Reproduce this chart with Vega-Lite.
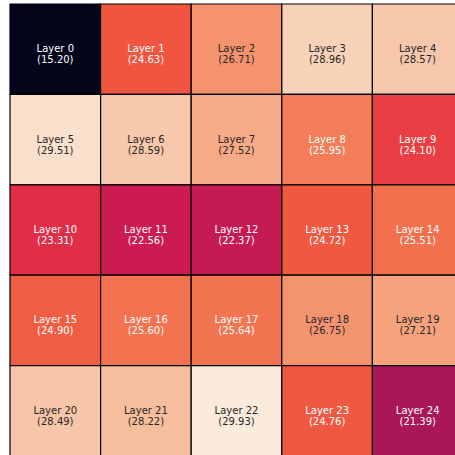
{
  "$schema": "https://vega.github.io/schema/vega-lite/v6.json",
  "width": 453,
  "height": 452,
  "autosize": {"type": "none"},
  "padding": {"left": 10, "top": 4, "right": 0, "bottom": 0},
  "background": "white",
  "config": {"view": {"stroke": null}},
  "data": {
    "values": [
      {"layer": 0, "row": 0, "col": 0, "value": 15.20},
      {"layer": 1, "row": 0, "col": 1, "value": 24.63},
      {"layer": 2, "row": 0, "col": 2, "value": 26.71},
      {"layer": 3, "row": 0, "col": 3, "value": 28.96},
      {"layer": 4, "row": 0, "col": 4, "value": 28.57},
      {"layer": 5, "row": 1, "col": 0, "value": 29.51},
      {"layer": 6, "row": 1, "col": 1, "value": 28.59},
      {"layer": 7, "row": 1, "col": 2, "value": 27.52},
      {"layer": 8, "row": 1, "col": 3, "value": 25.95},
      {"layer": 9, "row": 1, "col": 4, "value": 24.10},
      {"layer": 10, "row": 2, "col": 0, "value": 23.31},
      {"layer": 11, "row": 2, "col": 1, "value": 22.56},
      {"layer": 12, "row": 2, "col": 2, "value": 22.37},
      {"layer": 13, "row": 2, "col": 3, "value": 24.72},
      {"layer": 14, "row": 2, "col": 4, "value": 25.51},
      {"layer": 15, "row": 3, "col": 0, "value": 24.90},
      {"layer": 16, "row": 3, "col": 1, "value": 25.60},
      {"layer": 17, "row": 3, "col": 2, "value": 25.64},
      {"layer": 18, "row": 3, "col": 3, "value": 26.75},
      {"layer": 19, "row": 3, "col": 4, "value": 27.21},
      {"layer": 20, "row": 4, "col": 0, "value": 28.49},
      {"layer": 21, "row": 4, "col": 1, "value": 28.22},
      {"layer": 22, "row": 4, "col": 2, "value": 29.93},
      {"layer": 23, "row": 4, "col": 3, "value": 24.76},
      {"layer": 24, "row": 4, "col": 4, "value": 21.39}
    ]
  },
  "transform": [
    {"calculate": "'Layer ' + datum.layer + '\\n(' + format(datum.value, '.2f') + ')'", "as": "label"}
  ],
  "encoding": {
    "x": {"field": "col", "type": "ordinal", "axis": null, "scale": {"paddingInner": 0, "paddingOuter": 0}},
    "y": {"field": "row", "type": "ordinal", "axis": null, "scale": {"paddingInner": 0, "paddingOuter": 0}}
  },
  "layer": [
    {
      "mark": {"type": "rect", "stroke": "black", "strokeWidth": 1.2},
      "encoding": {
        "color": {
          "field": "value",
          "type": "quantitative",
          "legend": null,
          "scale": {
            "domain": [15.20, 17.304, 19.409, 21.513, 22.565, 23.30, 23.617, 24.10, 24.63, 25.721, 27.826, 29.93],
            "range": ["#03051a", "#35193e", "#701f57", "#ad1759", "#cb1b51", "#e12d48", "#e13342", "#e93f44", "#f0553f", "#f37651", "#f6b48f", "#faebdd"],
            "interpolate": "rgb"
          }
        }
      }
    },
    {
      "mark": {"type": "text", "font": "DejaVu Sans", "fontSize": 10, "lineBreak": "\n", "baseline": "middle", "lineHeight": 11},
      "encoding": {
        "text": {"field": "label"},
        "color": {
          "condition": {"test": "datum.value < 26", "value": "white"},
          "value": "#262626"
        }
      }
    }
  ]
}
